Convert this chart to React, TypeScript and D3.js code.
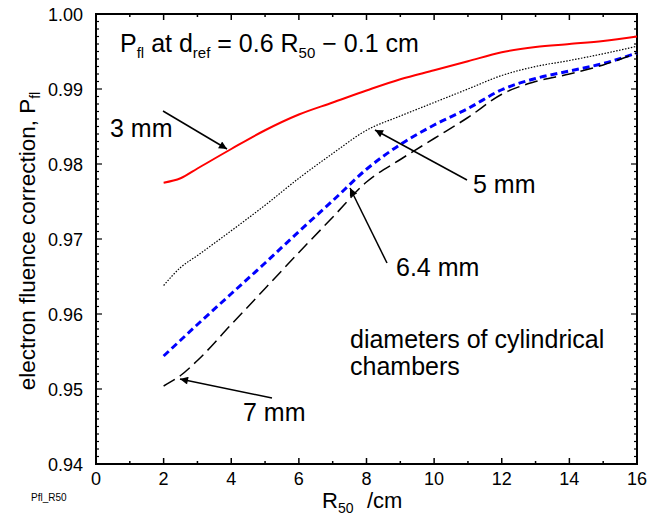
import React from "react";
import * as d3 from "d3";

const R50 = [2, 2.5, 3, 4, 5, 6, 7, 8, 9, 10, 11, 12, 13, 14, 15, 16];
const p3mm = [0.9775, 0.9781, 0.9794, 0.9820, 0.9845, 0.9866, 0.9882, 0.9898, 0.9913, 0.9925, 0.9937, 0.9949, 0.9956, 0.9960, 0.9964, 0.9970];
const p5mm = [0.9638, 0.9662, 0.9678, 0.9711, 0.9745, 0.9781, 0.9814, 0.9845, 0.9864, 0.9882, 0.9900, 0.9918, 0.9930, 0.9938, 0.9947, 0.9957];
const p64mm = [0.9544, 0.9565, 0.9586, 0.9627, 0.9668, 0.9710, 0.9751, 0.9793, 0.9826, 0.9852, 0.9874, 0.9899, 0.9914, 0.9924, 0.9934, 0.9948];
const p7mm = [0.9504, 0.9518, 0.9538, 0.9586, 0.9634, 0.9682, 0.9729, 0.9776, 0.9806, 0.9834, 0.9862, 0.9893, 0.9910, 0.9920, 0.9932, 0.9948];

const xTicks = [0, 2, 4, 6, 8, 10, 12, 14, 16];
const yTicks = [0.94, 0.95, 0.96, 0.97, 0.98, 0.99, 1.0];

const FONT = "'Liberation Sans', Arial, Helvetica, sans-serif";

export default function App() {
  const W = 651, H = 518;
  const x = d3.scaleLinear().domain([0, 16]).range([96, 637]);
  const y = d3.scaleLinear().domain([0.94, 1.0]).range([464, 14]);
  const line = (vals: number[]) =>
    d3.line<number>().x((_, i) => x(R50[i])).y((v) => y(v)).curve(d3.curveMonotoneX)(vals) || "";

  const xMinor = d3.range(0, 16.01, 1);
  const yMinor = d3.range(0, 61).map((i) => 0.94 + i * 0.001);

  const arrows = [
    { x1: 163, y1: 111, x2: 227, y2: 149 },
    { x1: 467, y1: 180, x2: 375, y2: 130 },
    { x1: 387, y1: 263, x2: 350, y2: 188 },
    { x1: 272, y1: 398, x2: 180, y2: 379 },
  ];

  return (
    <svg width={W} height={H} style={{ position: "absolute", left: 0, top: 0, background: "#fff" }} fontFamily={FONT}>
      <defs>
        <marker id="ah" viewBox="0 0 10 10" refX="10" refY="5" markerWidth="11" markerHeight="8" markerUnits="userSpaceOnUse" orient="auto">
          <path d="M0,0 L10,5 L0,10 z" fill="#000" />
        </marker>
      </defs>
      <rect x={0} y={0} width={W} height={H} fill="#fff" />
      <rect x={x(0)} y={y(1)} width={x(16) - x(0)} height={y(0.94) - y(1)} fill="none" stroke="#000" strokeWidth={2} />
      {xMinor.map((t) => {
        const major = t % 2 === 0;
        const len = major ? 6 : 3;
        return (
          <g key={"xt" + t}>
            <line x1={x(t)} x2={x(t)} y1={y(0.94)} y2={y(0.94) - len} stroke="#000" strokeWidth={1.5} />
            <line x1={x(t)} x2={x(t)} y1={y(1)} y2={y(1) + len} stroke="#000" strokeWidth={1.5} />
          </g>
        );
      })}
      {yMinor.map((t, i) => {
        const major = i % 10 === 0;
        const len = major ? 6 : 3;
        return (
          <g key={"yt" + i}>
            <line x1={x(0)} x2={x(0) + len} y1={y(t)} y2={y(t)} stroke="#000" strokeWidth={1.2} />
            <line x1={x(16)} x2={x(16) - len} y1={y(t)} y2={y(t)} stroke="#000" strokeWidth={1.2} />
          </g>
        );
      })}
      {xTicks.map((t) => (
        <text key={"xl" + t} x={x(t)} y={485} fontSize={18} textAnchor="middle">{t}</text>
      ))}
      {yTicks.map((t) => (
        <text key={"yl" + t} x={83} y={y(t) + 6.5} fontSize={18} textAnchor="end">{t.toFixed(2)}</text>
      ))}
      <path d={line(p3mm)} fill="none" stroke="#ff0000" strokeWidth={2} />
      <path d={line(p5mm)} fill="none" stroke="#000" strokeWidth={1.2} strokeDasharray="1.5 1.5" />
      <path d={line(p64mm)} fill="none" stroke="#0000ff" strokeWidth={3} strokeDasharray="7 4" />
      <path d={line(p7mm)} fill="none" stroke="#000" strokeWidth={1.5} strokeDasharray="13 6" />
      {arrows.map((a, i) => (
        <line key={"ar" + i} x1={a.x1} y1={a.y1} x2={a.x2} y2={a.y2} stroke="#000" strokeWidth={1.5} markerEnd="url(#ah)" />
      ))}
      <text x={110} y={137} fontSize={25}>3 mm</text>
      <text x={473} y={193} fontSize={25}>5 mm</text>
      <text x={396} y={276} fontSize={25}>6.4 mm</text>
      <text x={243} y={421} fontSize={25}>7 mm</text>
      <text x={350} y={348} fontSize={25}>diameters of cylindrical</text>
      <text x={350} y={375} fontSize={25}>chambers</text>
      <text x={120} y={52} fontSize={25}>
        P<tspan fontSize={15} dy={6}>fl</tspan>
        <tspan dy={-6}> at d</tspan>
        <tspan fontSize={15} dy={6}>ref</tspan>
        <tspan dy={-6}> = 0.6 R</tspan>
        <tspan fontSize={15} dy={6}>50</tspan>
        <tspan dy={-6}> − 0.1 cm</tspan>
      </text>
      <text x={322} y={508} fontSize={22}>
        R<tspan fontSize={14} dy={5}>50</tspan>
      </text>
      <text x={367} y={508} fontSize={22}>/cm</text>
      <text transform="translate(35,241) rotate(-90)" fontSize={22.5} textAnchor="middle">
        electron fluence correction, P<tspan fontSize={14} dy={5}>fl</tspan>
      </text>
      <text x={31} y={501} fontSize={10}>Pfl_R50</text>
    </svg>
  );
}
